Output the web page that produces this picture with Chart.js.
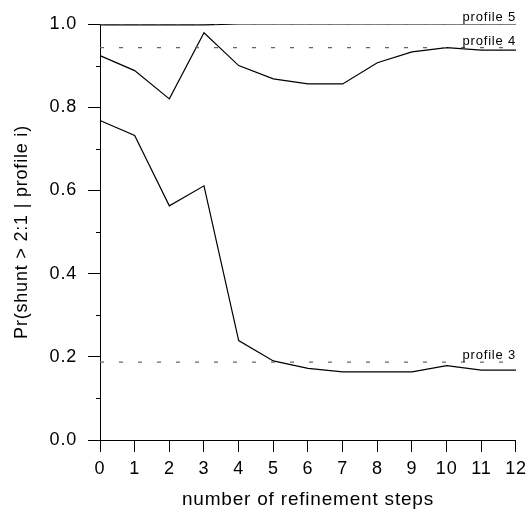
<!DOCTYPE html>
<html>
<head>
<meta charset="utf-8">
<script src="https://cdn.jsdelivr.net/npm/chart.js@4/dist/chart.umd.min.js"></script>
<style>
  html, body { margin: 0; padding: 0; background: #fff; }
  #wrap { width: 532px; height: 523px; }
</style>
</head>
<body>
<div id="wrap"><canvas id="chart" width="532" height="523"></canvas></div>
<script>
const steps = ['0', '1', '2', '3', '4', '5', '6', '7', '8', '9', '10', '11', '12'];
const profile3 = [0.768, 0.732, 0.563, 0.611, 0.239, 0.190, 0.172, 0.164, 0.164, 0.164, 0.179, 0.168, 0.168];
const profile4 = [0.924, 0.888, 0.820, 0.979, 0.900, 0.868, 0.856, 0.856, 0.907, 0.933, 0.943, 0.937, 0.937];
const profile5 = [0.998, 0.998, 0.998, 0.998, 1, 1, 1, 1, 1, 1, 1, 1, 1];
const profileLevels = [0.187, 0.943, 1.0];
const profileNames = ['profile 3', 'profile 4', 'profile 5'];
const minorTicks = [0.1, 0.3, 0.5, 0.7, 0.9];

const FONT = "'Liberation Sans', Arial, sans-serif";

function seriesLine(values) {
    return {
        data: values,
        borderColor: '#000',
        borderWidth: 1.2,
        pointRadius: 0,
        tension: 0,
        fill: false
    };
}

function levelLine(level) {
    return {
        data: steps.map(() => level),
        borderColor: '#666',
        borderWidth: 1.2,
        borderDash: [4, 15],
        pointRadius: 0,
        fill: false
    };
}

// short ticks between the labelled ones, plus the profile names over their level lines
const extras = {
    id: 'extras',
    beforeDraw(chart) {
        chart.ctx.letterSpacing = '0.8px';
    },
    afterDraw(chart) {
        const ctx = chart.ctx;
        const y = chart.scales.y;
        const left = chart.chartArea.left;
        ctx.save();
        ctx.strokeStyle = '#000';
        ctx.lineWidth = 1;
        minorTicks.forEach(v => {
            const py = Math.round(y.getPixelForValue(v)) + 0.5;
            ctx.beginPath();
            ctx.moveTo(left - 4, py);
            ctx.lineTo(left, py);
            ctx.stroke();
        });
        ctx.fillStyle = '#000';
        ctx.font = '13px ' + FONT;
        ctx.textAlign = 'right';
        ctx.textBaseline = 'alphabetic';
        profileLevels.forEach((lvl, i) => {
            ctx.fillText(profileNames[i], chart.chartArea.right, y.getPixelForValue(lvl) - 3);
        });
        ctx.restore();
    }
};

new Chart(document.getElementById('chart'), {
    type: 'line',
    data: {
        labels: steps,
        datasets: [
            levelLine(profileLevels[0]),
            levelLine(profileLevels[1]),
            levelLine(profileLevels[2]),
            seriesLine(profile3),
            seriesLine(profile4),
            seriesLine(profile5)
        ]
    },
    options: {
        responsive: false,
        animation: false,
        events: [],
        layout: { padding: { top: 24, right: 15, left: 0, bottom: 0 } },
        plugins: {
            legend: { display: false },
            tooltip: { enabled: false }
        },
        scales: {
            x: {
                type: 'category',
                offset: false,
                afterFit: (scale) => { scale.height = 83; },
                grid: { drawOnChartArea: false, tickLength: 12, color: '#000', lineWidth: 1 },
                border: { display: true, color: '#000', width: 1 },
                ticks: {
                    color: '#000',
                    padding: 6,
                    maxRotation: 0,
                    autoSkip: false,
                    font: { family: FONT, size: 18 }
                },
                title: {
                    display: true,
                    text: 'number of refinement steps',
                    color: '#000',
                    font: { family: FONT, size: 19 },
                    padding: { top: 0, bottom: 12 }
                }
            },
            y: {
                min: 0,
                max: 1,
                afterFit: (scale) => { scale.width = 100; },
                grid: { drawOnChartArea: false, tickLength: 12, color: '#000', lineWidth: 1 },
                border: { display: true, color: '#000', width: 1 },
                ticks: {
                    stepSize: 0.2,
                    color: '#000',
                    padding: 11,
                    font: { family: FONT, size: 18 },
                    callback: (v) => v.toFixed(1)
                },
                title: {
                    display: true,
                    text: 'Pr(shunt > 2:1 | profile i)',
                    color: '#000',
                    font: { family: FONT, size: 18 },
                    padding: { top: 11, bottom: 0 }
                }
            }
        }
    },
    plugins: [extras]
});
</script>
</body>
</html>
